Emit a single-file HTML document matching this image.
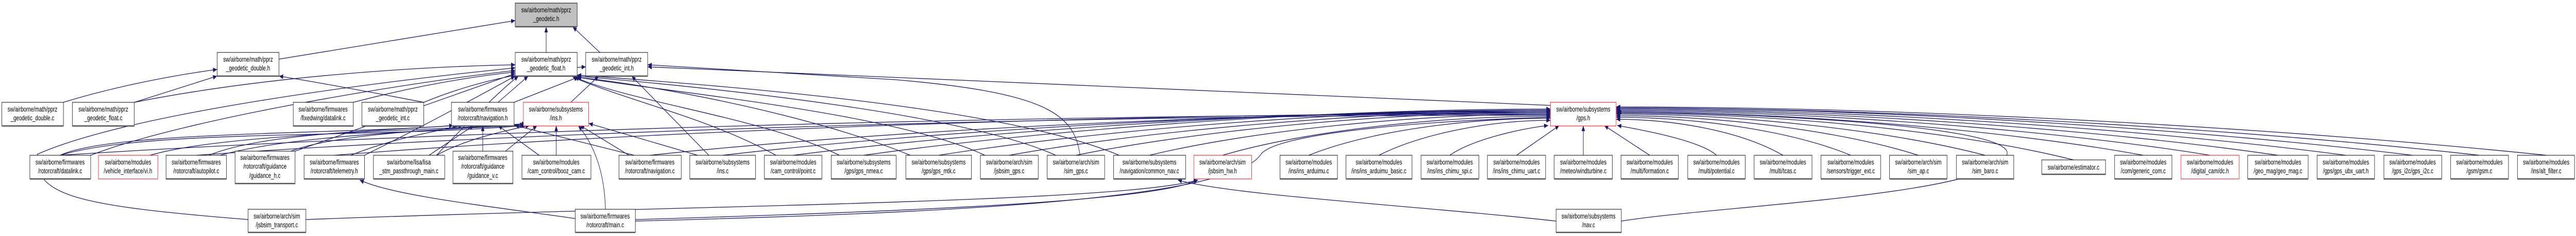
<!DOCTYPE html>
<html><head><meta charset="utf-8"><style>
html,body{margin:0;padding:0;background:#fff;width:100%;height:100%;overflow:hidden;}
svg{display:block;position:absolute;left:0;top:0;}
text{font-family:"Liberation Sans",sans-serif;font-size:13.5px;fill:#000;text-anchor:middle;}
.e{fill:none;stroke:#191970;stroke-width:1.3;marker-end:url(#a);}
.b rect{fill:#fff;stroke:#000;stroke-width:1;}
.r rect{fill:#fff;stroke:#ff0000;stroke-width:1;}
.g rect{fill:#bfbfbf;stroke:#000;stroke-width:1;}
.sh{stroke:#555;stroke-width:2.5;}
</style></head><body>
<svg width="100%" height="100%" viewBox="0 0 6905 459" preserveAspectRatio="none" xmlns="http://www.w3.org/2000/svg" overflow="hidden">
<defs><marker id="a" markerWidth="11" markerHeight="9" refX="11" refY="4.5" orient="auto" markerUnits="userSpaceOnUse"><path d="M0,0 L11,4.5 L0,9z" fill="#191970"/></marker></defs>

<path class="e" d="M748,115 L1381,40"/>
<path class="e" d="M1464,102 L1464,52"/>
<path class="e" d="M1608,102 L1535,52"/>
<path class="e" d="M170,199 C300,170 450,148 582,135"/>
<path class="e" d="M360,199 L582,148"/>
<path class="e" d="M360,199 C700,150 1100,130 1381,126"/>
<path class="e" d="M1136,199 C1000,180 850,160 748,148"/>
<path class="e" d="M1136,199 C1300,150 1450,135 1570,130"/>
<path class="e" d="M947,199 C1100,170 1250,150 1381,140"/>
<path class="e" d="M1335,199 L1416,148"/>
<path class="e" d="M1378,199 L1550,150"/>
<path class="e" d="M1530,199 L1605,148"/>
<path class="e" d="M4156,205 L1736,130"/>
<path class="e" d="M665,427 C200,400 90,380 100,300 C350,220 1000,160 1381,132"/>
<path class="e" d="M243,302 C500,230 1100,160 1381,137"/>
<path class="e" d="M791,294 C1000,240 1200,190 1381,143"/>
<path class="e" d="M977,302 C1150,240 1300,180 1381,148"/>
<path class="e" d="M1170,302 C1250,240 1350,170 1390,148"/>
<path class="e" d="M2080,302 C1900,230 1700,200 1535,150"/>
<path class="e" d="M2250,302 C2050,230 1700,200 1540,150"/>
<path class="e" d="M2440,302 C2200,230 1800,170 1545,150"/>
<path class="e" d="M2640,302 C2400,220 1800,180 1547,150"/>
<path class="e" d="M2830,302 C2580,220 1900,170 1547,148"/>
<path class="e" d="M3000,302 C2700,210 2000,170 1547,146"/>
<path class="e" d="M2895,302 C2880,220 2800,180 2400,155 L1736,126"/>
<path class="e" d="M1900,302 L1693,148"/>
<path class="e" d="M161,302 C300,255 900,262 1215,244"/>
<path class="e" d="M560,302 C700,260 1000,255 1225,244"/>
<path class="e" d="M940,302 C1050,270 1150,258 1240,244"/>
<path class="e" d="M1150,302 L1270,244"/>
<path class="e" d="M1294,294 L1294,244"/>
<path class="e" d="M1445,302 L1335,244"/>
<path class="e" d="M1700,302 L1380,244"/>
<path class="e" d="M161,302 C400,250 1000,270 1408,244"/>
<path class="e" d="M402,302 C600,260 1100,255 1405,242"/>
<path class="e" d="M590,302 C800,260 1200,255 1410,240"/>
<path class="e" d="M780,294 C900,260 1200,250 1410,244"/>
<path class="e" d="M1170,302 C1250,270 1350,255 1420,244"/>
<path class="e" d="M1355,294 L1440,244"/>
<path class="e" d="M1491,302 L1491,244"/>
<path class="e" d="M1686,302 L1555,244"/>
<path class="e" d="M1870,302 L1578,240"/>
<path class="e" d="M1623,407 C1620,330 1590,280 1550,244"/>
<path class="e" d="M1542,425 C1300,400 1050,380 964,350"/>
<path class="e" d="M1703,427 C2500,410 3100,390 3211,350"/>
<path class="e" d="M820,427 C1800,400 3000,395 3211,350"/>
<path class="e" d="M4171,430 C3800,400 3300,380 3157,350"/>
<path class="e" d="M1703,430 C2500,415 3300,390 3380,300 C3420,260 3800,235 4156,228"/>
<path class="e" d="M4346,430 C4600,400 5350,380 5380,300 C5400,240 4600,218 4335,218"/>
<path class="e" d="M161,302 C1160,255 2758,222 4156,222"/>
<path class="e" d="M526,302 C1434,255 2885,224 4156,224"/>
<path class="e" d="M896,302 C1711,255 3015,220 4156,220"/>
<path class="e" d="M1742,302 C2346,255 3311,218 4156,218"/>
<path class="e" d="M1937,302 C2492,255 3379,216 4156,216"/>
<path class="e" d="M2126,302 C2634,255 3446,214 4156,214"/>
<path class="e" d="M2315,302 C2775,255 3512,212 4156,212"/>
<path class="e" d="M2516,302 C2926,255 3582,214 4156,214"/>
<path class="e" d="M2705,302 C3068,255 3648,216 4156,216"/>
<path class="e" d="M2884,302 C3202,255 3711,218 4156,218"/>
<path class="e" d="M3081,302 C3350,255 3780,222 4156,222"/>
<path class="e" d="M3277,302 C3497,255 3848,226 4156,226"/>
<path class="e" d="M3508,302 C3670,255 3929,230 4156,230"/>
<path class="e" d="M3696,302 C3811,260 3995,234 4156,234"/>
<path class="e" d="M3886,302 C3950,270 4080,250 4150,244"/>
<path class="e" d="M4065,302 L4180,244"/>
<path class="e" d="M4244,302 L4244,244"/>
<path class="e" d="M4422,302 L4300,244"/>
<path class="e" d="M4601,302 C4560,275 4420,255 4335,244"/>
<path class="e" d="M4779,302 C4667,255 4488,232 4332,232"/>
<path class="e" d="M4961,302 C4804,255 4552,228 4332,228"/>
<path class="e" d="M5142,302 C4940,255 4616,225 4332,225"/>
<path class="e" d="M5321,302 C5074,255 4678,222 4332,222"/>
<path class="e" d="M5558,311 C5251,255 4761,220 4332,220"/>
<path class="e" d="M5745,302 C5392,255 4827,218 4332,218"/>
<path class="e" d="M5924,302 C5526,255 4889,216 4332,216"/>
<path class="e" d="M6106,302 C5662,255 4953,214 4332,214"/>
<path class="e" d="M6288,302 C5799,255 5017,212 4332,212"/>
<path class="e" d="M6467,302 C5933,255 5079,210 4332,210"/>
<path class="e" d="M6646,302 C6068,255 5142,210 4332,210"/>
<path class="e" d="M6826,302 C6202,255 5205,208 4332,208"/>

<g class="g"><rect x="1381" y="6" width="166" height="46"/><line class="sh" x1="1381" y1="52" x2="1547" y2="52"/><text x="1464" y="24">sw/airborne/math/pprz</text><text x="1464" y="41">_geodetic.h</text></g>
<g class="b"><rect x="582" y="102" width="166" height="46"/><line class="sh" x1="582" y1="148" x2="748" y2="148"/><text x="665" y="120">sw/airborne/math/pprz</text><text x="665" y="137">_geodetic_double.h</text></g>
<g class="b"><rect x="1381" y="102" width="166" height="46"/><line class="sh" x1="1381" y1="148" x2="1547" y2="148"/><text x="1464" y="120">sw/airborne/math/pprz</text><text x="1464" y="137">_geodetic_float.h</text></g>
<g class="b"><rect x="1570" y="102" width="166" height="46"/><line class="sh" x1="1570" y1="148" x2="1736" y2="148"/><text x="1653" y="120">sw/airborne/math/pprz</text><text x="1653" y="137">_geodetic_int.h</text></g>

<g class="b"><rect x="5" y="199" width="165" height="46"/><line class="sh" x1="5" y1="245" x2="170" y2="245"/><text x="87" y="217">sw/airborne/math/pprz</text><text x="87" y="234">_geodetic_double.c</text></g>
<g class="b"><rect x="194" y="199" width="166" height="46"/><line class="sh" x1="194" y1="245" x2="360" y2="245"/><text x="277" y="217">sw/airborne/math/pprz</text><text x="277" y="234">_geodetic_float.c</text></g>
<g class="b"><rect x="786" y="199" width="161" height="46"/><line class="sh" x1="786" y1="245" x2="947" y2="245"/><text x="866" y="217">sw/airborne/firmwares</text><text x="866" y="234">/fixedwing/datalink.c</text></g>
<g class="b"><rect x="970" y="199" width="166" height="46"/><line class="sh" x1="970" y1="245" x2="1136" y2="245"/><text x="1053" y="217">sw/airborne/math/pprz</text><text x="1053" y="234">_geodetic_int.c</text></g>
<g class="b"><rect x="1210" y="199" width="168" height="46"/><line class="sh" x1="1210" y1="245" x2="1378" y2="245"/><text x="1294" y="217">sw/airborne/firmwares</text><text x="1294" y="234">/rotorcraft/navigation.h</text></g>
<g class="r"><rect x="1403" y="199" width="175" height="46"/><text x="1490" y="217">sw/airborne/subsystems</text><text x="1490" y="234">/ins.h</text></g>
<g class="r"><rect x="4156" y="199" width="176" height="46"/><text x="4244" y="217">sw/airborne/subsystems</text><text x="4244" y="234">/gps.h</text></g>

<g class="b"><rect x="80" y="302" width="163" height="46"/><line class="sh" x1="80" y1="348" x2="243" y2="348"/><text x="161" y="320">sw/airborne/firmwares</text><text x="161" y="337">/rotorcraft/datalink.c</text></g>
<g class="r"><rect x="264" y="302" width="159" height="46"/><text x="343" y="320">sw/airborne/modules</text><text x="343" y="337">/vehicle_interface/vi.h</text></g>
<g class="b"><rect x="445" y="302" width="162" height="46"/><line class="sh" x1="445" y1="348" x2="607" y2="348"/><text x="526" y="320">sw/airborne/firmwares</text><text x="526" y="337">/rotorcraft/autopilot.c</text></g>
<g class="b"><rect x="630" y="294" width="161" height="63"/><line class="sh" x1="630" y1="357" x2="791" y2="357"/><text x="710" y="311">sw/airborne/firmwares</text><text x="710" y="328">/rotorcraft/guidance</text><text x="710" y="346">/guidance_h.c</text></g>
<g class="b"><rect x="815" y="302" width="162" height="46"/><line class="sh" x1="815" y1="348" x2="977" y2="348"/><text x="896" y="320">sw/airborne/firmwares</text><text x="896" y="337">/rotorcraft/telemetry.h</text></g>
<g class="b"><rect x="1001" y="302" width="191" height="46"/><line class="sh" x1="1001" y1="348" x2="1192" y2="348"/><text x="1096" y="320">sw/airborne/lisa/lisa</text><text x="1096" y="337">_stm_passthrough_main.c</text></g>
<g class="b"><rect x="1214" y="294" width="161" height="63"/><line class="sh" x1="1214" y1="357" x2="1375" y2="357"/><text x="1294" y="311">sw/airborne/firmwares</text><text x="1294" y="328">/rotorcraft/guidance</text><text x="1294" y="346">/guidance_v.c</text></g>
<g class="b"><rect x="1399" y="302" width="185" height="46"/><line class="sh" x1="1399" y1="348" x2="1584" y2="348"/><text x="1491" y="320">sw/airborne/modules</text><text x="1491" y="337">/cam_control/booz_cam.c</text></g>
<g class="b"><rect x="1659" y="302" width="167" height="46"/><line class="sh" x1="1659" y1="348" x2="1826" y2="348"/><text x="1742" y="320">sw/airborne/firmwares</text><text x="1742" y="337">/rotorcraft/navigation.c</text></g>
<g class="b"><rect x="1849" y="302" width="176" height="46"/><line class="sh" x1="1849" y1="348" x2="2025" y2="348"/><text x="1937" y="320">sw/airborne/subsystems</text><text x="1937" y="337">/ins.c</text></g>
<g class="b"><rect x="2049" y="302" width="154" height="46"/><line class="sh" x1="2049" y1="348" x2="2203" y2="348"/><text x="2126" y="320">sw/airborne/modules</text><text x="2126" y="337">/cam_control/point.c</text></g>
<g class="b"><rect x="2228" y="302" width="174" height="46"/><line class="sh" x1="2228" y1="348" x2="2402" y2="348"/><text x="2315" y="320">sw/airborne/subsystems</text><text x="2315" y="337">/gps/gps_nmea.c</text></g>
<g class="b"><rect x="2428" y="302" width="176" height="46"/><line class="sh" x1="2428" y1="348" x2="2604" y2="348"/><text x="2516" y="320">sw/airborne/subsystems</text><text x="2516" y="337">/gps/gps_mtk.c</text></g>
<g class="b"><rect x="2628" y="302" width="155" height="46"/><line class="sh" x1="2628" y1="348" x2="2783" y2="348"/><text x="2705" y="320">sw/airborne/arch/sim</text><text x="2705" y="337">/jsbsim_gps.c</text></g>
<g class="b"><rect x="2807" y="302" width="154" height="46"/><line class="sh" x1="2807" y1="348" x2="2961" y2="348"/><text x="2884" y="320">sw/airborne/arch/sim</text><text x="2884" y="337">/sim_gps.c</text></g>
<g class="b"><rect x="2985" y="302" width="193" height="46"/><line class="sh" x1="2985" y1="348" x2="3178" y2="348"/><text x="3081" y="320">sw/airborne/subsystems</text><text x="3081" y="337">/navigation/common_nav.c</text></g>
<g class="r"><rect x="3200" y="302" width="155" height="46"/><text x="3277" y="320">sw/airborne/arch/sim</text><text x="3277" y="337">/jsbsim_hw.h</text></g>
<g class="b"><rect x="3431" y="302" width="154" height="46"/><line class="sh" x1="3431" y1="348" x2="3585" y2="348"/><text x="3508" y="320">sw/airborne/modules</text><text x="3508" y="337">/ins/ins_arduimu.c</text></g>
<g class="b"><rect x="3608" y="302" width="177" height="46"/><line class="sh" x1="3608" y1="348" x2="3785" y2="348"/><text x="3696" y="320">sw/airborne/modules</text><text x="3696" y="337">/ins/ins_arduimu_basic.c</text></g>
<g class="b"><rect x="3809" y="302" width="155" height="46"/><line class="sh" x1="3809" y1="348" x2="3964" y2="348"/><text x="3886" y="320">sw/airborne/modules</text><text x="3886" y="337">/ins/ins_chimu_spi.c</text></g>
<g class="b"><rect x="3987" y="302" width="156" height="46"/><line class="sh" x1="3987" y1="348" x2="4143" y2="348"/><text x="4065" y="320">sw/airborne/modules</text><text x="4065" y="337">/ins/ins_chimu_uart.c</text></g>
<g class="b"><rect x="4166" y="302" width="156" height="46"/><line class="sh" x1="4166" y1="348" x2="4322" y2="348"/><text x="4244" y="320">sw/airborne/modules</text><text x="4244" y="337">/meteo/windturbine.c</text></g>
<g class="b"><rect x="4345" y="302" width="154" height="46"/><line class="sh" x1="4345" y1="348" x2="4499" y2="348"/><text x="4422" y="320">sw/airborne/modules</text><text x="4422" y="337">/multi/formation.c</text></g>
<g class="b"><rect x="4524" y="302" width="154" height="46"/><line class="sh" x1="4524" y1="348" x2="4678" y2="348"/><text x="4601" y="320">sw/airborne/modules</text><text x="4601" y="337">/multi/potential.c</text></g>
<g class="b"><rect x="4702" y="302" width="155" height="46"/><line class="sh" x1="4702" y1="348" x2="4857" y2="348"/><text x="4779" y="320">sw/airborne/modules</text><text x="4779" y="337">/multi/tcas.c</text></g>
<g class="b"><rect x="4881" y="302" width="160" height="46"/><line class="sh" x1="4881" y1="348" x2="5041" y2="348"/><text x="4961" y="320">sw/airborne/modules</text><text x="4961" y="337">/sensors/trigger_ext.c</text></g>
<g class="b"><rect x="5065" y="302" width="154" height="46"/><line class="sh" x1="5065" y1="348" x2="5219" y2="348"/><text x="5142" y="320">sw/airborne/arch/sim</text><text x="5142" y="337">/sim_ap.c</text></g>
<g class="b"><rect x="5244" y="302" width="154" height="46"/><line class="sh" x1="5244" y1="348" x2="5398" y2="348"/><text x="5321" y="320">sw/airborne/arch/sim</text><text x="5321" y="337">/sim_baro.c</text></g>
<g class="b"><rect x="5473" y="311" width="171" height="28"/><line class="sh" x1="5473" y1="339" x2="5644" y2="339"/><text x="5558" y="330">sw/airborne/estimator.c</text></g>
<g class="b"><rect x="5668" y="302" width="154" height="46"/><line class="sh" x1="5668" y1="348" x2="5822" y2="348"/><text x="5745" y="320">sw/airborne/modules</text><text x="5745" y="337">/com/generic_com.c</text></g>
<g class="r"><rect x="5846" y="302" width="156" height="46"/><text x="5924" y="320">sw/airborne/modules</text><text x="5924" y="337">/digital_cam/dc.h</text></g>
<g class="b"><rect x="6025" y="302" width="162" height="46"/><line class="sh" x1="6025" y1="348" x2="6187" y2="348"/><text x="6106" y="320">sw/airborne/modules</text><text x="6106" y="337">/geo_mag/geo_mag.c</text></g>
<g class="b"><rect x="6211" y="302" width="154" height="46"/><line class="sh" x1="6211" y1="348" x2="6365" y2="348"/><text x="6288" y="320">sw/airborne/modules</text><text x="6288" y="337">/gps/gps_ubx_uart.h</text></g>
<g class="b"><rect x="6390" y="302" width="155" height="46"/><line class="sh" x1="6390" y1="348" x2="6545" y2="348"/><text x="6467" y="320">sw/airborne/modules</text><text x="6467" y="337">/gps_i2c/gps_i2c.c</text></g>
<g class="b"><rect x="6569" y="302" width="155" height="46"/><line class="sh" x1="6569" y1="348" x2="6724" y2="348"/><text x="6646" y="320">sw/airborne/modules</text><text x="6646" y="337">/gsm/gsm.c</text></g>
<g class="b"><rect x="6748" y="302" width="153" height="46"/><line class="sh" x1="6748" y1="348" x2="6901" y2="348"/><text x="6825" y="320">sw/airborne/modules</text><text x="6825" y="337">/ins/alt_filter.c</text></g>

<g class="b"><rect x="665" y="407" width="155" height="45"/><line class="sh" x1="665" y1="452" x2="820" y2="452"/><text x="742" y="425">sw/airborne/arch/sim</text><text x="742" y="442">/jsbsim_transport.c</text></g>
<g class="b"><rect x="1542" y="407" width="161" height="45"/><line class="sh" x1="1542" y1="452" x2="1703" y2="452"/><text x="1622" y="425">sw/airborne/firmwares</text><text x="1622" y="442">/rotorcraft/main.c</text></g>
<g class="b"><rect x="4171" y="407" width="175" height="45"/><line class="sh" x1="4171" y1="452" x2="4346" y2="452"/><text x="4258" y="425">sw/airborne/subsystems</text><text x="4258" y="442">/nav.c</text></g>
</svg>
</body></html>
